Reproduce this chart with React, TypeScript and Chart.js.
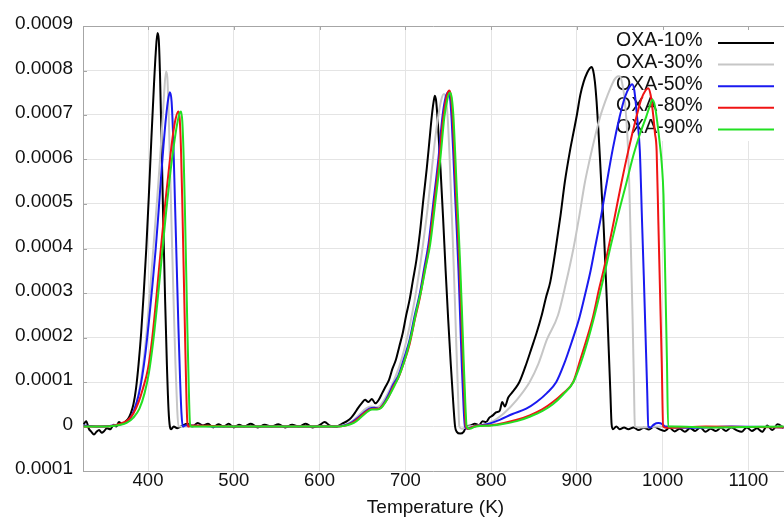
import React, { useEffect, useRef } from "react";
import { Chart, registerables } from "chart.js";

Chart.register(...registerables);

const SCALE = 1e-4;
const FONT = "'Liberation Sans', Arial, Helvetica, sans-serif";

const seriesNames = ["OXA-10%", "OXA-30%", "OXA-50%", "OXA-80%", "OXA-90%"];
const seriesColors = ["#000000", "#c6c6c6", "#1a1af0", "#f01414", "#22e022"];

const xTicks = [400, 500, 600, 700, 800, 900, 1000, 1100];
const yTicks = [-1, 0, 1, 2, 3, 4, 5, 6, 7, 8, 9];
const yTickLabels = ["0.0001", "0", "0.0001", "0.0002", "0.0003", "0.0004", "0.0005", "0.0006", "0.0007", "0.0008", "0.0009"];
const xTitle = "Temperature (K)";

// OXA-10%  (values in units of 1e-4)
const oxa10T = [325, 328, 331, 334, 337, 340, 343, 346, 349, 352, 356, 360, 363, 366, 370, 374, 377, 380, 383, 386, 389, 392, 395, 398, 401, 404, 407, 409, 411, 412.5, 414, 416, 418, 420, 422, 424, 425.5, 427, 430, 434, 440, 446, 452, 458, 464, 470, 476, 482, 488, 494, 500, 506, 512, 520, 528, 536, 544, 552, 560, 568, 576, 584, 592, 600, 606, 612, 620, 626, 632, 637, 641, 645, 649, 653, 657, 661, 665, 669, 673, 677, 681, 685, 689, 693, 697, 701, 705, 709, 713, 717, 721, 725, 728, 731, 733, 734.5, 736, 738, 741, 744, 747, 750, 753, 756, 758, 760, 764, 768, 771, 776, 781, 786, 790, 794, 798, 802, 806, 810, 813, 816, 820, 824, 828, 833, 840, 847, 853, 859, 864, 869, 875, 881, 886, 892, 896, 900, 904, 908, 912, 915, 917, 919, 921, 923, 925, 927, 929, 931, 933, 935, 937, 939, 940.5, 942, 946, 950, 955, 960, 966, 972, 978, 984, 990, 996, 1002, 1008, 1014, 1020, 1026, 1032, 1038, 1044, 1050, 1056, 1062, 1068, 1074, 1080, 1086, 1092, 1098, 1104, 1110, 1116, 1122, 1128, 1134, 1141];
const oxa10V = [0.05, 0.12, -0.05, -0.12, -0.18, -0.12, -0.08, -0.14, -0.1, -0.04, -0.06, 0.04, 0.0, 0.1, 0.06, 0.12, 0.18, 0.3, 0.5, 0.85, 1.4, 2.1, 3.0, 4.0, 5.2, 6.5, 7.7, 8.4, 8.84, 8.7, 7.9, 6.2, 4.4, 2.8, 1.4, 0.35, 0.0, -0.06, 0.0, -0.04, 0.02, 0.06, 0.0, 0.08, 0.02, 0.06, -0.02, 0.05, 0.0, 0.06, -0.02, 0.04, 0.0, 0.06, -0.02, 0.04, 0.0, 0.05, -0.02, 0.04, 0.0, 0.06, -0.02, 0.03, 0.1, 0.02, 0.0, 0.06, 0.12, 0.2, 0.3, 0.42, 0.52, 0.6, 0.55, 0.62, 0.52, 0.6, 0.75, 0.9, 1.05, 1.3, 1.5, 1.8, 2.1, 2.5, 2.85, 3.3, 3.75, 4.35, 5.1, 5.8, 6.4, 7.0, 7.3, 7.43, 7.3, 6.8, 5.8, 4.7, 3.5, 2.4, 1.4, 0.5, 0.0, -0.12, -0.16, -0.12, 0.0, 0.02, 0.06, 0.03, 0.12, 0.1, 0.2, 0.25, 0.32, 0.35, 0.55, 0.45, 0.65, 0.75, 0.85, 1.0, 1.35, 1.75, 2.1, 2.5, 2.9, 3.25, 3.95, 4.75, 5.5, 6.2, 6.6, 7.0, 7.45, 7.75, 7.95, 8.05, 8.08, 8.0, 7.75, 7.3, 6.7, 6.0, 5.25, 4.6, 3.7, 2.8, 1.8, 0.8, 0.05, -0.06, 0.0, -0.06, -0.02, -0.06, -0.02, -0.08, -0.03, -0.07, 0.0, -0.06, -0.1, -0.03, -0.11, -0.05, -0.12, -0.04, -0.1, -0.02, -0.12, -0.05, -0.1, -0.03, -0.1, -0.02, -0.08, -0.12, -0.02, -0.1, -0.04, -0.12, 0.02, -0.08, 0.05, -0.03];

// OXA-30%
const oxa30T = [325, 345, 360, 368, 374, 379, 383, 387, 391, 395, 399, 403, 407, 411, 414, 417, 419, 421, 422.5, 424, 426, 428, 430, 432, 434, 435.5, 440, 500, 560, 620, 630, 638, 646, 654, 660, 666, 671, 676, 681, 687, 693, 699, 705, 711, 716, 721, 726, 731, 735, 739, 742, 745, 747.5, 749.5, 751.5, 753.5, 755.5, 757.5, 759.5, 761.5, 763, 766, 772, 785, 800, 815, 830, 845, 855, 865, 878, 887, 896, 903, 909, 915, 921, 927, 933, 939, 944, 948, 950, 953, 956, 959, 961, 963, 965, 966.5, 967.6, 972, 1000, 1060, 1141];
const oxa30V = [0.0, 0.0, 0.02, 0.05, 0.08, 0.15, 0.3, 0.55, 0.95, 1.5, 2.25, 3.2, 4.2, 5.2, 6.0, 6.9, 7.55, 7.98, 7.85, 7.1, 5.6, 4.1, 2.7, 1.4, 0.4, 0.0, 0.0, 0.0, 0.0, 0.01, 0.04, 0.12, 0.26, 0.4, 0.45, 0.43, 0.48, 0.62, 0.8, 1.05, 1.35, 1.75, 2.25, 2.85, 3.45, 4.15, 4.9, 5.8, 6.5, 7.05, 7.35, 7.47, 7.35, 6.9, 6.1, 5.1, 4.1, 3.0, 1.8, 0.7, 0.0, -0.05, 0.0, 0.02, 0.1, 0.3, 0.6, 1.0, 1.4, 1.95, 2.5, 3.2, 4.0, 4.75, 5.45, 6.0, 6.5, 6.95, 7.3, 7.6, 7.8, 7.87, 7.87, 7.7, 7.3, 6.5, 5.5, 4.0, 2.4, 1.0, 0.0, -0.02, 0.0, -0.02, 0.0];

// OXA-50%
const oxa50T = [325, 345, 360, 368, 374, 379, 384, 389, 393, 397, 401, 405, 409, 412, 415, 418, 421, 423.5, 425.5, 427.5, 429.5, 431.5, 433.5, 435.5, 437.5, 439, 440.5, 444, 480, 540, 600, 620, 630, 638, 645, 652, 658, 664, 669, 674, 680, 686, 692, 698, 705, 711, 717, 722, 727, 732.5, 738.5, 743.5, 747, 750, 752, 754, 756, 758, 760, 762, 764, 766, 768, 769.5, 772, 780, 795, 810, 825, 841, 853, 865, 876, 885, 894, 903, 910, 916, 921, 928, 934.6, 942, 950, 956, 961, 964.5, 967, 970, 973.4, 976, 978, 980, 982, 983.3, 986, 990, 995, 1000, 1003, 1030, 1080, 1141];
const oxa50V = [0.02, 0.0, 0.02, 0.05, 0.1, 0.18, 0.38, 0.7, 1.1, 1.65, 2.35, 3.15, 4.0, 4.75, 5.55, 6.3, 6.95, 7.35, 7.51, 7.3, 6.4, 5.0, 3.6, 2.2, 1.0, 0.3, 0.0, 0.03, 0.0, 0.0, 0.0, 0.0, 0.03, 0.1, 0.2, 0.32, 0.4, 0.42, 0.4, 0.5, 0.7, 0.95, 1.15, 1.5, 1.95, 2.5, 3.0, 3.55, 4.1, 5.0, 6.0, 7.0, 7.4, 7.51, 7.4, 6.9, 6.1, 5.2, 4.4, 3.5, 2.4, 1.3, 0.4, 0.0, -0.05, 0.0, 0.05, 0.15, 0.28, 0.4, 0.55, 0.75, 1.0, 1.4, 1.9, 2.45, 3.0, 3.5, 4.0, 4.7, 5.45, 6.25, 6.97, 7.4, 7.62, 7.69, 7.55, 7.0, 6.2, 4.6, 3.4, 2.1, 0.8, 0.0, -0.02, 0.05, 0.08, 0.05, 0.0, -0.03, 0.0, -0.02];

// OXA-80%
const oxa80T = [325, 350, 362, 370, 377, 383, 389, 394, 400, 405, 410, 415, 420, 425, 429, 432, 435.3, 437, 438.5, 440, 441.5, 443, 444.5, 445.8, 447, 450, 500, 560, 620, 630, 638, 645, 652, 658, 664, 669, 674, 680, 686, 692, 698, 705, 711, 717, 722, 727, 733, 739, 744, 748, 751, 753, 755, 757, 759, 761, 763, 765, 767, 769, 770.5, 773, 780, 800, 815, 830, 845, 860, 872, 884, 895.7, 904, 912, 919, 926, 931, 936.5, 944, 952, 960, 969.6, 975, 980, 983, 986, 989, 991, 993, 995, 997, 999, 1000.6, 1004, 1050, 1141];
const oxa80V = [0.0, 0.0, 0.03, 0.08, 0.15, 0.3, 0.55, 0.85, 1.3, 2.0, 2.95, 4.0, 5.0, 5.9, 6.55, 6.9, 7.08, 6.9, 6.2, 5.0, 3.6, 2.2, 0.9, 0.1, 0.0, 0.02, 0.0, 0.0, 0.0, 0.02, 0.08, 0.18, 0.3, 0.38, 0.4, 0.4, 0.48, 0.65, 0.9, 1.1, 1.42, 1.85, 2.4, 2.9, 3.45, 3.95, 4.9, 5.9, 6.9, 7.4, 7.55, 7.45, 7.0, 6.2, 5.3, 4.5, 3.7, 2.7, 1.6, 0.6, 0.0, -0.05, 0.0, 0.03, 0.08, 0.15, 0.25, 0.39, 0.55, 0.75, 1.0, 1.5, 2.0, 2.48, 3.1, 3.5, 3.98, 4.7, 5.48, 6.2, 6.97, 7.35, 7.55, 7.6, 7.45, 7.0, 6.6, 6.2, 4.6, 3.0, 1.4, 0.0, -0.03, 0.0, -0.02];

// OXA-90%
const oxa90T = [325, 350, 365, 375, 383, 390, 396, 401, 406, 411, 416, 421, 426, 430, 434, 437, 438.5, 440, 441.5, 443, 444.5, 446, 447.5, 448.8, 450, 500, 560, 620, 630, 640, 648, 655, 661, 667, 672, 677, 683, 689, 695, 701, 707, 713, 719, 724, 729, 735, 741, 745.5, 749, 752, 754, 756, 758, 760, 762, 764, 766, 768, 770, 771.5, 775, 782, 800, 815, 830, 845, 860, 872, 884, 896, 905, 913, 920, 927, 933, 938.5, 948, 957.8, 966, 974, 981, 985, 988.2, 991, 994, 997, 999, 1001, 1003, 1005, 1006.4, 1010, 1060, 1141];
const oxa90V = [0.0, 0.0, 0.03, 0.08, 0.2, 0.4, 0.75, 1.2, 1.9, 2.8, 3.8, 4.8, 5.7, 6.3, 6.8, 7.05, 7.08, 6.85, 6.1, 4.9, 3.5, 2.1, 0.9, 0.1, 0.0, 0.0, 0.0, 0.0, 0.02, 0.08, 0.2, 0.32, 0.38, 0.38, 0.42, 0.55, 0.75, 0.98, 1.25, 1.6, 2.05, 2.6, 3.1, 3.6, 4.1, 5.05, 6.05, 6.95, 7.35, 7.5, 7.4, 7.0, 6.2, 5.3, 4.5, 3.6, 2.6, 1.5, 0.5, 0.0, -0.05, 0.0, 0.02, 0.06, 0.12, 0.22, 0.35, 0.5, 0.72, 1.0, 1.45, 1.95, 2.45, 3.0, 3.5, 3.98, 4.75, 5.48, 6.1, 6.6, 6.97, 7.2, 7.34, 7.2, 6.8, 6.3, 5.9, 5.2, 3.4, 1.5, 0.0, 0.0, -0.02, 0.0];

const seriesT = [oxa10T, oxa30T, oxa50T, oxa80T, oxa90T];
const seriesV = [oxa10V, oxa30V, oxa50V, oxa80V, oxa90V];

const W = 784;
const H = 519;
const PLOT_LEFT = 83;
const PLOT_TOP = 26;
const PLOT_BOTTOM = 471;
const X_MIN = 324.2;
const X_MAX = 1141.5;

const framePlugin = {
  id: "frameAndLegend",
  beforeDatasetsDraw(chart: any) {
    const { ctx, chartArea } = chart;
    const { left, right, top, bottom } = chartArea;
    ctx.save();
    // legend background
    ctx.fillStyle = "#ffffff";
    ctx.fillRect(612, top + 1, right - 612, 114);
    // frame
    ctx.strokeStyle = "#a6a6a6";
    ctx.lineWidth = 1;
    ctx.beginPath();
    ctx.moveTo(left + 0.5, top);
    ctx.lineTo(left + 0.5, bottom);
    ctx.moveTo(left, top + 0.5);
    ctx.lineTo(right, top + 0.5);
    ctx.moveTo(left, bottom + 0.5);
    ctx.lineTo(right, bottom + 0.5);
    ctx.stroke();
    // small ticks on frame
    const xs = chart.scales.x;
    const ys = chart.scales.y;
    ctx.beginPath();
    xTicks.forEach((t) => {
      const px = Math.round(xs.getPixelForValue(t)) + 0.5;
      ctx.moveTo(px, top);
      ctx.lineTo(px, top + 4);
    });
    yTicks.forEach((t) => {
      const py = Math.round(ys.getPixelForValue(t * SCALE)) + 0.5;
      ctx.moveTo(left, py);
      ctx.lineTo(left + 4, py);
    });
    ctx.stroke();
    // legend entries
    ctx.font = `19.5px ${FONT}`;
    ctx.textBaseline = "middle";
    ctx.textAlign = "left";
    seriesNames.forEach((name, i) => {
      const y = 41 + i * 21.6;
      ctx.fillStyle = "#111111";
      ctx.fillText(name, 616, y);
      ctx.strokeStyle = seriesColors[i];
      ctx.lineWidth = 2;
      ctx.beginPath();
      ctx.moveTo(718, y + 2);
      ctx.lineTo(774, y + 2);
      ctx.stroke();
    });
    ctx.restore();
  },
  afterDraw(chart: any) {
    const { ctx, chartArea } = chart;
    ctx.save();
    ctx.font = `19px ${FONT}`;
    ctx.fillStyle = "#111111";
    ctx.textAlign = "center";
    ctx.textBaseline = "middle";
    ctx.fillText(xTitle, (chartArea.left + chartArea.right) / 2 + 2, 508);
    ctx.restore();
  },
};

export default function App() {
  const ref = useRef<HTMLCanvasElement | null>(null);
  useEffect(() => {
    if (!ref.current) return;
    const datasets = seriesNames.map((name, i) => ({
      label: name,
      data: seriesT[i].map((t, j) => ({ x: t, y: seriesV[i][j] * SCALE })),
      borderColor: seriesColors[i],
      backgroundColor: seriesColors[i],
      borderWidth: 2,
      pointRadius: 0,
      fill: false,
      cubicInterpolationMode: "monotone" as const,
      order: seriesNames.length - 1 - i,
    }));
    const chart = new Chart(ref.current, {
      type: "line",
      data: { datasets },
      options: {
        responsive: false,
        animation: false,
        devicePixelRatio: 1,
        layout: { padding: { top: PLOT_TOP, right: 0, left: 0, bottom: 0 } },
        plugins: { legend: { display: false }, tooltip: { enabled: false }, title: { display: false } },
        scales: {
          x: {
            type: "linear",
            min: X_MIN,
            max: X_MAX,
            afterBuildTicks: (s: any) => {
              s.ticks = xTicks.map((v) => ({ value: v }));
            },
            afterFit: (s: any) => {
              s.height = H - PLOT_BOTTOM;
            },
            grid: { color: "#e4e4e4", lineWidth: 1, drawTicks: false },
            border: { display: false },
            ticks: {
              color: "#111111",
              font: { family: FONT, size: 18.5 },
              padding: -1,
              maxRotation: 0,
              autoSkip: false,
              callback: (v: any) => String(v),
            },
          },
          y: {
            type: "linear",
            min: -1 * SCALE,
            max: 9 * SCALE,
            afterBuildTicks: (s: any) => {
              s.ticks = yTicks.map((v) => ({ value: v * SCALE }));
            },
            afterFit: (s: any) => {
              s.width = PLOT_LEFT;
            },
            grid: { color: "#e4e4e4", lineWidth: 1, drawTicks: false },
            border: { display: false },
            ticks: {
              color: "#111111",
              font: { family: FONT, size: 19 },
              padding: 10,
              labelOffset: -2,
              autoSkip: false,
              callback: (_v: any, i: number) => yTickLabels[i],
            },
          },
        },
      },
      plugins: [framePlugin],
    });
    return () => chart.destroy();
  }, []);
  return (
    <div style={{ position: "fixed", left: 0, top: 0, width: W, height: H, background: "#fff" }}>
      <canvas ref={ref} width={W} height={H} style={{ width: W, height: H, display: "block" }} />
    </div>
  );
}
